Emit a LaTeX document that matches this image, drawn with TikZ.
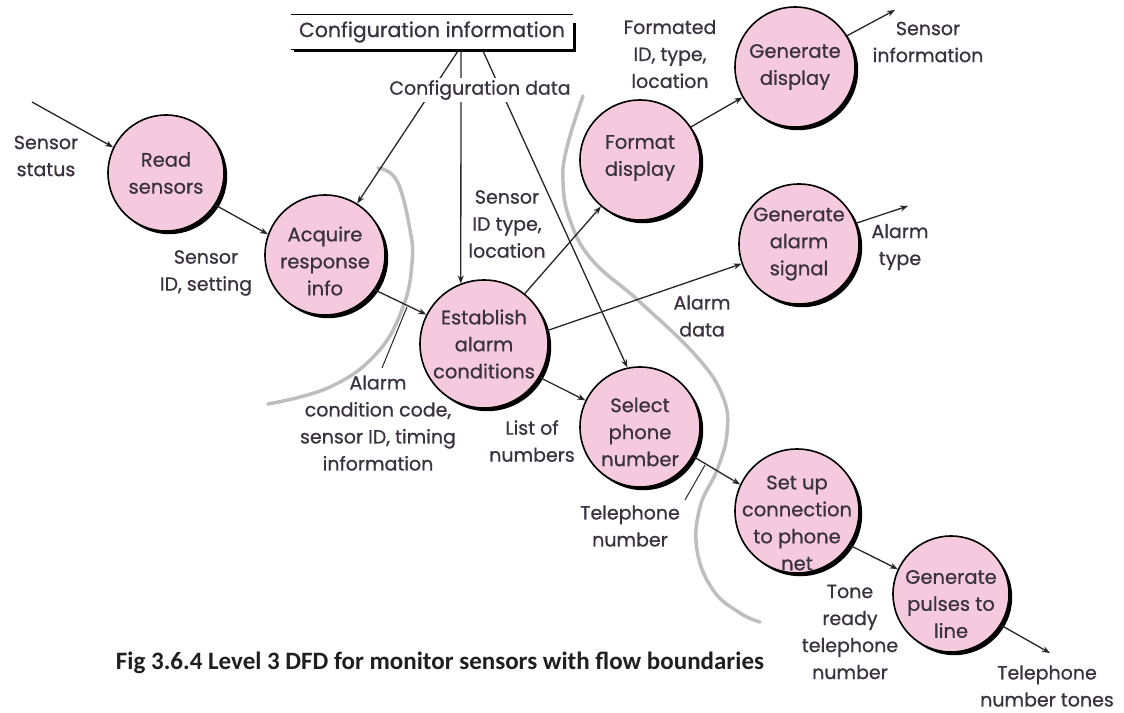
\documentclass[tikz,border=0pt]{standalone}
\usepackage{fontspec}
\setmainfont{Poppins}[FakeBold=0.7]
\newfontfamily\capfont{Carlito}
\usetikzlibrary{shadows,arrows.meta}

\definecolor{bubble}{RGB}{246,202,222}
\definecolor{ink}{RGB}{58,50,62}
\definecolor{boundary}{RGB}{190,190,190}

\newcommand\procfont{\fontsize{19.5}{27}\selectfont}
\newcommand\lblfont{\fontsize{19}{27}\selectfont}

\begin{document}
\begin{tikzpicture}[x=1pt,y=-1pt,
  proc/.style={circle, draw=black, line width=1.6pt, fill=bubble,
    drop shadow={shadow xshift=3.2pt, shadow yshift=-3.2pt, fill=black, opacity=1},
    inner sep=0pt},
  ptext/.style={align=center, text=ink, font=\procfont, inner sep=0pt},
  lbl/.style={align=center, text=ink, font=\lblfont, inner sep=1pt},
  flow/.style={draw=black!85, line width=1.3pt, -{Stealth[length=8pt,width=6pt]}},
  leader/.style={draw=black!85, line width=1pt},
  bound/.style={draw=boundary, line width=3.5pt, line cap=round}]

\useasboundingbox (0,0) rectangle (1124,712);
\fill[white] (0,0) rectangle (1124,712);

% flow boundaries
\draw[bound] plot[smooth, tension=0.7] coordinates {(378,168) (397,181) (410,230) (412,263) (403,307) (377,353) (330,387) (268,404)};
\draw[bound] plot[smooth, tension=0.7] coordinates {(583,96) (567,147) (563,182) (570,220) (592,260) (640,302) (697,357) (723,397) (727,433) (717,470) (700,507) (697,550) (713,590) (740,613) (760,622)};

% data store
\node[lbl, font=\fontsize{20.5}{24}\selectfont, minimum width=282, minimum height=34, inner sep=0pt] (cfg) at (432,32) {Configuration information};
\draw[line width=1.3pt] (cfg.north west) -- (cfg.north east);
\draw[line width=1pt] (cfg.south west) -- (cfg.south east);
\draw[line width=3pt] ([xshift=3pt,yshift=-1.5pt]cfg.south west) -- ([xshift=1.5pt,yshift=-1.5pt]cfg.south east) -- ([xshift=1.5pt,yshift=-8pt]cfg.north east);

% processes (text placed on each bubble through a centred label)
\node[proc, minimum size=116, label={[ptext]center:Read\\sensors}] (read) at (166,173) {};
\node[proc, minimum size=120, label={[ptext, yshift=-6pt]center:Acquire\\response\\info}] (acq) at (325,255) {};
\node[proc, minimum size=128, label={[ptext]center:Establish\\alarm\\conditions}] (est) at (484,344) {};
\node[proc, minimum size=120, label={[ptext, yshift=2pt]center:Format\\display}] (fmt) at (640,160) {};
\node[proc, minimum size=120, label={[ptext]center:Generate\\display}] (gdisp) at (795,67) {};
\node[proc, minimum size=120, label={[ptext]center:Generate\\alarm\\signal}] (galarm) at (799,244) {};
\node[proc, minimum size=120, label={[ptext, yshift=-5pt]center:Select\\phone\\number}] (sel) at (640,427) {};
\node[proc, minimum size=124, label={[ptext, yshift=-12pt]center:Set up\\connection\\to phone\\net}] (setup) at (797,511) {};
\node[proc, minimum size=116, label={[ptext, yshift=-10pt]center:Generate\\pulses to\\line}] (pulse) at (951,594) {};

% free ends of external flows
\coordinate (sin) at (32,102);
\coordinate (dout) at (895,10);
\coordinate (aout) at (908,206);
\coordinate (tout) at (1050,653);

% store taps
\coordinate (c1) at (458,51);
\coordinate (c2) at (461,51);
\coordinate (c3) at (483,51);

% flows
\draw[flow] (sin) -- (read.154);
\draw[flow] (read.-33) -- (acq.160);
\draw[flow] (acq.-35) -- (est.153);
\draw[flow] (c1) -- (acq.58);
\draw[flow] (c2) -- (est.111);
\draw[flow] (c3) -- (sel.102);
\draw[flow] (est.51) -- (fmt.230);
\draw[flow] (fmt.33) -- (gdisp.210);
\draw[flow] (gdisp.31) -- (dout);
\draw[flow] (est.12) -- (galarm.199);
\draw[flow] (galarm.20) -- (aout);
\draw[flow] (est.-31) -- (sel.154);
\draw[flow] (sel.-29) -- (setup.155);
\draw[flow] (setup.-33) -- (pulse.155);
\draw[flow] (pulse.-32) -- (tout);

% labels
\node[lbl, fill=white, inner sep=2pt] (cdata) at (480,90) {Configuration data};
\node[lbl] (l1) at (46,156) {Sensor\\status};
\node[lbl] (l2) at (206,273) {Sensor\\ID, setting};
\node[lbl] (l3) at (507,224) {Sensor\\ID type,\\location};
\node[lbl] (l4) at (670,54) {Formated\\ID, type,\\location};
\node[lbl] (l5) at (928,42) {Sensor\\information};
\node[lbl] (l6) at (900,247) {Alarm\\type};
\node[lbl] (l7) at (702,316) {Alarm\\data};
\node[lbl] (l8) at (378,423) {Alarm\\condition code,\\sensor ID, timing\\information};
\node[lbl] (l9) at (532,441) {List of\\numbers};
\node[lbl] (l10) at (630,526) {Telephone\\number};
\node[lbl] (l11) at (850,632) {Tone\\ready\\telephone\\number};
\node[lbl] (l12) at (1047,686) {Telephone\\number tones};

% leaders from labels to their flows
\coordinate (k1) at (407,307);
\coordinate (k2) at (705,465);
\draw[leader] (382,368) -- (k1);
\draw[leader] (685,500) -- (k2);

% caption
\node[font=\capfont\bfseries\fontsize{25}{30}\selectfont, text=black!88, inner sep=0pt] (cap) at (440,663) {Fig 3.6.4 Level 3 DFD for monitor sensors with flow boundaries};
\end{tikzpicture}
\end{document}
